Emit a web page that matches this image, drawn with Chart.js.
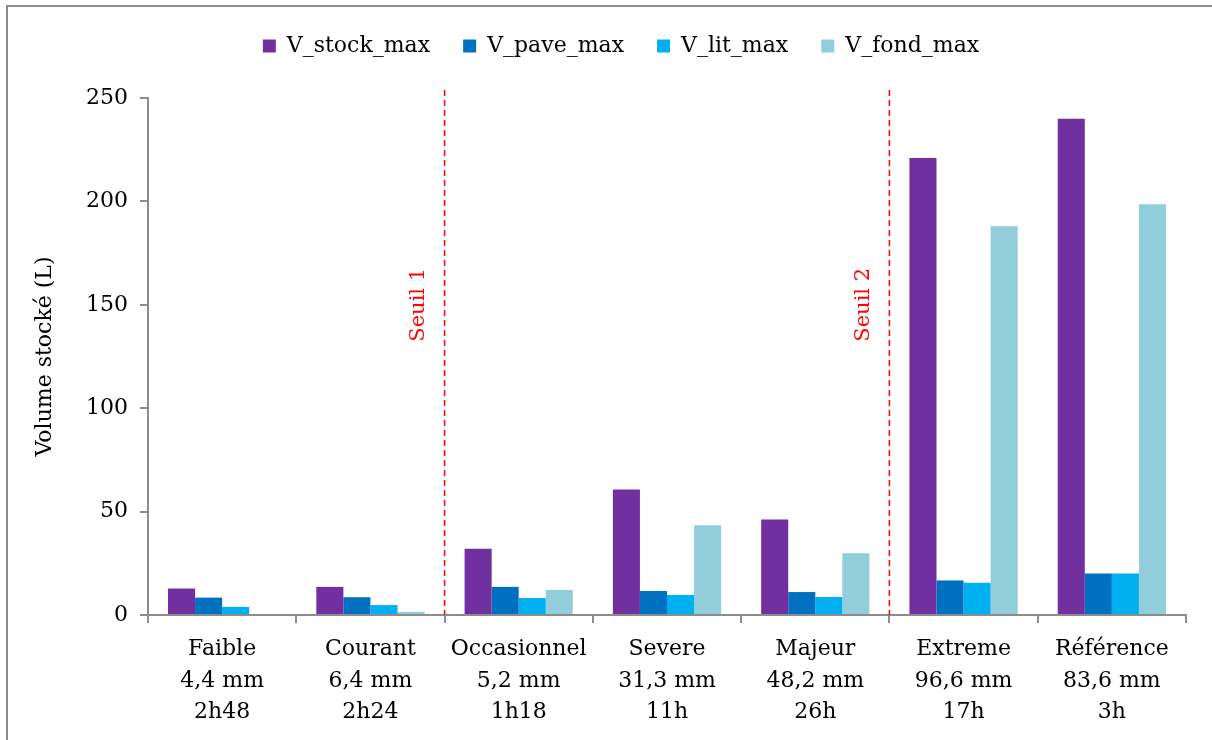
<!DOCTYPE html>
<html>
<head>
<meta charset="utf-8">
<script src="https://cdn.jsdelivr.net/npm/chart.js@4.4.1/dist/chart.umd.min.js"></script>
<style>
  html, body { margin: 0; padding: 0; background: #fff; overflow: hidden; }
</style>
</head>
<body>
<canvas id="myChart" width="1212" height="740"></canvas>
<script>
// categories (event name / rain depth / duration)
var categories = [
    ["Faible", "4,4 mm", "2h48"],
    ["Courant", "6,4 mm", "2h24"],
    ["Occasionnel", "5,2 mm", "1h18"],
    ["Severe", "31,3 mm", "11h"],
    ["Majeur", "48,2 mm", "26h"],
    ["Extreme", "96,6 mm", "17h"],
    ["Référence", "83,6 mm", "3h"]
];

// series values (L)
var vStockMax = [12.8, 13.6, 32, 60.7, 46.2, 221, 240];
var vPaveMax  = [8.4, 8.6, 13.6, 11.6, 11.1, 16.7, 20.1];
var vLitMax   = [3.9, 4.8, 8.2, 9.7, 8.7, 15.6, 20.1];
var vFondMax  = [0, 1.5, 12.1, 43.4, 29.8, 188, 198.6];

var yTicks = [0, 50, 100, 150, 200, 250];

// thresholds drawn between categories
var seuils = [
    { label: "Seuil 1", after: 1 },
    { label: "Seuil 2", after: 4 }
];

var FONT = "'DejaVu Serif', serif";

<!-----------frame (only left + top edges are visible)--------------------------->
var framePlugin = {
    id: 'frame',
    beforeDraw: function (chart) {
        var ctx = chart.ctx;
        ctx.save();
        ctx.strokeStyle = '#8c8c8c';
        ctx.lineWidth = 2;
        ctx.beginPath();
        ctx.moveTo(7, chart.height);
        ctx.lineTo(7, 6);
        ctx.lineTo(chart.width, 6);
        ctx.stroke();
        ctx.restore();
    }
};

<!-----------threshold lines plugin--------------------------->
var seuilPlugin = {
    id: 'seuils',
    afterDatasetsDraw: function (chart) {
        var ctx = chart.ctx;
        var xs = chart.scales.x;
        var ys = chart.scales.y;
        seuils.forEach(function (s) {
            var x = (xs.getPixelForValue(s.after) + xs.getPixelForValue(s.after + 1)) / 2;
            ctx.save();
            ctx.strokeStyle = '#ff0000';
            ctx.lineWidth = 1.5;
            ctx.setLineDash([6, 4]);
            ctx.beginPath();
            ctx.moveTo(x, chart.chartArea.top - 8);
            ctx.lineTo(x, chart.chartArea.bottom);
            ctx.stroke();
            ctx.setLineDash([]);
            ctx.translate(x - 26, ys.getPixelForValue(150));
            ctx.rotate(-Math.PI / 2);
            ctx.fillStyle = '#ff0000';
            ctx.font = "21px " + FONT;
            ctx.textAlign = 'center';
            ctx.textBaseline = 'middle';
            ctx.fillText(s.label, 0, 0);
            ctx.restore();
        });
    }
};
<!--------------end of threshold plugin--------------------------->

<!-----------legend: extra space below it, and nudged right--------------------------->
var legendGap = {
    id: 'legendGap',
    beforeLayout: function (chart) {
        if (chart.legend && !chart.legend._gapDone) {
            var fit = chart.legend.fit;
            chart.legend.fit = function () {
                fit.call(this);
                this.height += 31;
            };
            chart.legend._gapDone = true;
        }
    },
    afterLayout: function (chart) {
        if (chart.legend) {
            chart.legend.left += 28;
            chart.legend.right += 28;
        }
    }
};
<!--------------end of legend--------------------------->

new Chart(document.getElementById("myChart"), {
    type: 'bar',
    data: {
        labels: categories,
        datasets: [
            { label: 'V_stock_max', data: vStockMax, backgroundColor: '#7030A0' },
            { label: 'V_pave_max', data: vPaveMax, backgroundColor: '#0070C0' },
            { label: 'V_lit_max', data: vLitMax, backgroundColor: '#00B0F0' },
            { label: 'V_fond_max', data: vFondMax, backgroundColor: '#92CDDC' }
        ]
    },
    options: {
        responsive: false,
        animation: false,
        devicePixelRatio: 1,
        layout: { padding: { left: 0, right: 26, top: 2, bottom: 0 } },
        datasets: { bar: { barPercentage: 1, categoryPercentage: 0.73 } },
        plugins: {
            legend: {
                position: 'top',
                labels: {
                    boxWidth: 13, boxHeight: 13, padding: 33,
                    color: '#000', font: { family: FONT, size: 22 }
                }
            },
            tooltip: { enabled: false }
        },
        scales: {
            x: {
                grid: { display: true, drawOnChartArea: false, drawTicks: true, tickLength: 8, color: '#8c8c8c', lineWidth: 2, offset: true },
                border: { color: '#8c8c8c', width: 2 },
                ticks: { color: '#000', font: { family: FONT, size: 22, lineHeight: 1.45 }, padding: 10, maxRotation: 0, autoSkip: false },
                afterFit: function (scale) { scale.height = 125; }
            },
            y: {
                min: 0, max: 250,
                afterBuildTicks: function (scale) { scale.ticks = yTicks.map(function (v) { return { value: v }; }); },
                grid: { display: true, drawOnChartArea: false, drawTicks: true, tickLength: 8, color: '#8c8c8c', lineWidth: 2 },
                border: { color: '#8c8c8c', width: 2 },
                ticks: { color: '#000', font: { family: FONT, size: 22 }, padding: 12 },
                title: { display: true, text: 'Volume stocké (L)', color: '#000', font: { family: FONT, size: 22 }, padding: { top: 32, bottom: 0 } },
                afterFit: function (scale) { scale.width = 148; }
            }
        }
    },
    plugins: [framePlugin, seuilPlugin, legendGap]
});
</script>
</body>
</html>
